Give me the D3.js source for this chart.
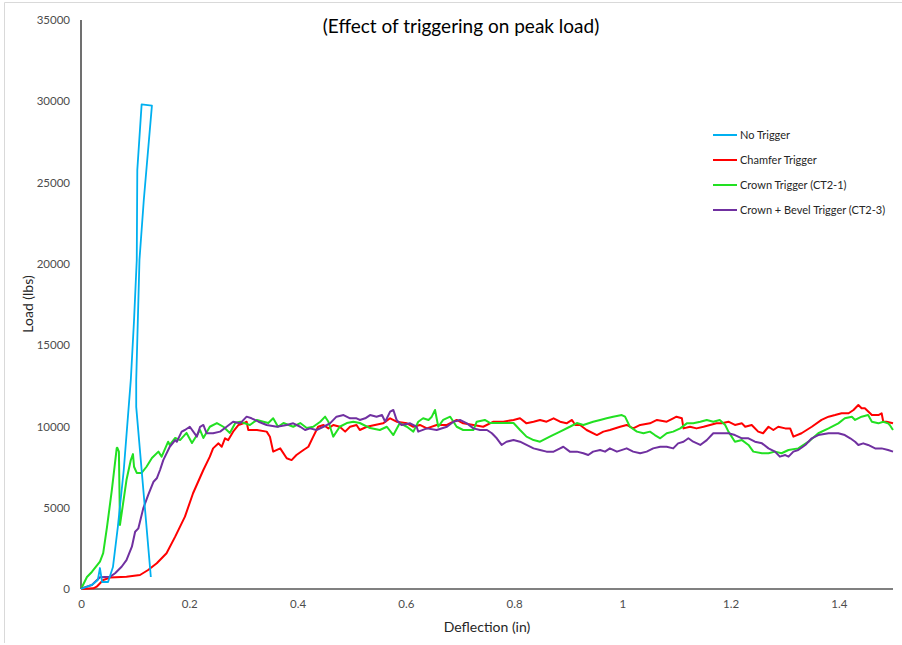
<!DOCTYPE html>
<html>
<head>
<meta charset="utf-8">
<script src="https://cdn.jsdelivr.net/npm/d3@7"></script>
<style>
  body { margin: 0; background: #fff; }
  svg { display: block; font-family: Lato, "Open Sans", sans-serif; }
  .axis text { fill: #4d4d4d; font-size: 11.5px; }
</style>
</head>
<body>
<svg id="chart" width="902" height="645"></svg>
<script>
// deflection (in), load (lbs)
const noTrigger = [[0,0],[0.020,250],[0.031,550],[0.035,1290],[0.039,430],[0.050,430],[0.059,1350],[0.068,3810],[0.079,7320],[0.092,12860],[0.098,16550],[0.103,20240],[0.104,25770],[0.112,29810],[0.131,29730],[0.116,23930],[0.108,20240],[0.102,12860],[0.102,11200],[0.129,740]];

const chamfer = [[0,0],[0.023,40],[0.029,140],[0.041,550],[0.054,700],[0.084,760],[0.109,860],[0.124,1170],[0.140,1580],[0.158,2200],[0.174,3220],[0.192,4450],[0.207,5890],[0.226,7320],[0.238,8140],[0.244,8650],[0.254,8960],[0.260,8750],[0.266,9270],[0.272,9160],[0.281,9680],[0.291,10090],[0.300,10190],[0.306,10290],[0.309,9780],[0.325,9780],[0.343,9680],[0.349,9370],[0.355,8450],[0.368,8650],[0.380,8040],[0.389,7930],[0.398,8240],[0.411,8550],[0.420,8750],[0.429,9370],[0.438,9980],[0.448,10090],[0.457,9880],[0.466,10090],[0.478,9980],[0.488,9680],[0.497,9980],[0.509,10090],[0.515,9780],[0.528,9980],[0.543,10090],[0.558,10190],[0.571,10500],[0.583,10290],[0.602,10190],[0.614,9980],[0.626,10090],[0.639,9880],[0.657,10090],[0.676,10090],[0.694,10400],[0.706,10190],[0.725,10090],[0.743,9980],[0.762,10290],[0.780,10290],[0.799,10400],[0.811,10500],[0.823,10190],[0.836,10290],[0.848,10400],[0.860,10290],[0.873,10500],[0.885,10290],[0.897,10190],[0.907,10400],[0.913,10090],[0.922,10090],[0.934,9780],[0.953,9470],[0.965,9680],[0.977,9780],[0.996,9980],[1.008,10090],[1.020,9880],[1.033,10090],[1.051,10190],[1.064,10400],[1.082,10290],[1.094,10500],[1.100,10600],[1.110,10500],[1.113,9880],[1.125,9980],[1.137,9880],[1.150,9980],[1.162,10090],[1.174,10190],[1.184,10190],[1.196,10290],[1.208,10090],[1.221,10190],[1.227,9980],[1.239,10090],[1.251,9680],[1.260,9580],[1.270,9980],[1.279,9780],[1.288,9980],[1.301,9880],[1.310,9880],[1.316,9370],[1.331,9580],[1.350,9980],[1.368,10400],[1.381,10600],[1.393,10700],[1.405,10810],[1.418,10810],[1.427,11010],[1.436,11320],[1.442,11120],[1.448,11120],[1.461,10700],[1.473,10700],[1.479,10810],[1.482,10290],[1.488,10290],[1.500,10190]];

const crown = [[0,0],[0.011,740],[0.020,1050],[0.035,1680],[0.041,2210],[0.048,3800],[0.057,6090],[0.066,8670],[0.067,8690],[0.070,8450],[0.072,3940],[0.084,6700],[0.092,7930],[0.096,8300],[0.098,7520],[0.103,7140],[0.112,7140],[0.121,7520],[0.131,8060],[0.143,8450],[0.149,8140],[0.161,9060],[0.164,8860],[0.174,9290],[0.183,9160],[0.195,9600],[0.205,8980],[0.220,9780],[0.226,9290],[0.238,9980],[0.251,10210],[0.263,9980],[0.275,9600],[0.285,10210],[0.294,10290],[0.312,10090],[0.325,10400],[0.337,10290],[0.346,10210],[0.355,10500],[0.364,9980],[0.374,10210],[0.392,9980],[0.405,10210],[0.417,9900],[0.429,9980],[0.442,10290],[0.451,10600],[0.457,10290],[0.466,9370],[0.478,9980],[0.491,10210],[0.503,10290],[0.515,10210],[0.534,9900],[0.552,9780],[0.565,9980],[0.577,9470],[0.589,10210],[0.602,9980],[0.614,9680],[0.623,10290],[0.632,10500],[0.642,10400],[0.648,10600],[0.654,11010],[0.660,9980],[0.669,10400],[0.682,10600],[0.694,9980],[0.706,9780],[0.725,9780],[0.731,10290],[0.746,10400],[0.756,10210],[0.774,10210],[0.786,10210],[0.799,10210],[0.811,9780],[0.823,9370],[0.836,9160],[0.848,9060],[0.866,9370],[0.885,9680],[0.903,9980],[0.916,10210],[0.928,10090],[0.946,10290],[0.959,10400],[0.971,10500],[0.983,10600],[0.999,10700],[1.005,10600],[1.014,9980],[1.027,9680],[1.039,9580],[1.051,9680],[1.060,9470],[1.070,9270],[1.082,9580],[1.094,9680],[1.107,9880],[1.119,10190],[1.131,10190],[1.144,10290],[1.156,10400],[1.168,10290],[1.180,10400],[1.190,10090],[1.196,9680],[1.208,9060],[1.221,9160],[1.233,8860],[1.242,8450],[1.258,8350],[1.270,8350],[1.282,8450],[1.294,8350],[1.307,8550],[1.325,8650],[1.344,9060],[1.362,9580],[1.381,9880],[1.399,10190],[1.411,10500],[1.424,10600],[1.430,10400],[1.442,10600],[1.454,10700],[1.461,10290],[1.473,10190],[1.482,10290],[1.491,10190],[1.494,10090],[1.500,9780]];

const crownBevel = [[0,0],[0.001,40],[0.020,250],[0.035,720],[0.054,760],[0.063,970],[0.075,1370],[0.084,1780],[0.094,2600],[0.100,3520],[0.106,3730],[0.115,4960],[0.124,5780],[0.134,6600],[0.140,6810],[0.146,7320],[0.152,7930],[0.164,8750],[0.174,9160],[0.177,9060],[0.186,9680],[0.192,9780],[0.201,9980],[0.214,9370],[0.220,9980],[0.226,10090],[0.232,9580],[0.244,9580],[0.257,9680],[0.269,9980],[0.281,10290],[0.294,10190],[0.306,10600],[0.315,10500],[0.328,10290],[0.343,10090],[0.362,9980],[0.380,10090],[0.392,10190],[0.405,9980],[0.414,9780],[0.423,9880],[0.435,9780],[0.448,9980],[0.460,10190],[0.472,10600],[0.485,10700],[0.497,10500],[0.509,10500],[0.515,10400],[0.525,10500],[0.534,10700],[0.546,10600],[0.556,10700],[0.562,10290],[0.571,10910],[0.577,11010],[0.583,10400],[0.592,10090],[0.608,10190],[0.620,9980],[0.623,9680],[0.639,9880],[0.657,9780],[0.676,9980],[0.688,10290],[0.700,10400],[0.713,10190],[0.725,9880],[0.737,9780],[0.750,9780],[0.759,9580],[0.768,9270],[0.777,8860],[0.786,9060],[0.799,9160],[0.811,9060],[0.823,8860],[0.836,8650],[0.848,8550],[0.860,8450],[0.873,8450],[0.885,8650],[0.891,8750],[0.903,8450],[0.916,8450],[0.928,8350],[0.937,8240],[0.946,8450],[0.959,8550],[0.968,8450],[0.977,8650],[0.990,8450],[1.008,8650],[1.020,8450],[1.033,8350],[1.045,8450],[1.057,8650],[1.070,8750],[1.082,8750],[1.094,8650],[1.103,8960],[1.113,9060],[1.122,9270],[1.131,9060],[1.144,8860],[1.156,9160],[1.168,9580],[1.180,9580],[1.196,9580],[1.208,9470],[1.221,9270],[1.233,9270],[1.245,9060],[1.258,8960],[1.270,8650],[1.282,8450],[1.291,8140],[1.301,8240],[1.307,8140],[1.316,8450],[1.325,8550],[1.338,8860],[1.350,9270],[1.362,9470],[1.381,9580],[1.399,9580],[1.411,9470],[1.421,9270],[1.430,9060],[1.436,8860],[1.445,8960],[1.454,8860],[1.467,8650],[1.479,8650],[1.491,8550],[1.500,8450]];

const seriesNames = ["No Trigger", "Chamfer Trigger", "Crown Trigger (CT2-1)", "Crown + Bevel Trigger (CT2-3)"];
const seriesColors = ["#00b0f0", "#ff0000", "#22e022", "#7030a0"];
const xTicks = [0, 0.2, 0.4, 0.6, 0.8, 1, 1.2, 1.4];
const yTicks = [0, 5000, 10000, 15000, 20000, 25000, 30000, 35000];

const svg = d3.select("#chart");
const W = 902, H = 645;
const plotL = 81, plotR = 893, plotT = 20, plotB = 589;

// faint frame of the chart area
svg.append("path")
  .attr("d", `M4.5,643 V2.5 H${W}`)
  .attr("fill", "none")
  .attr("stroke", "#d9d9d9");

const x = d3.scaleLinear().domain([0, 1.5]).range([plotL, plotR]);
const y = d3.scaleLinear().domain([0, 35000]).range([plotB, plotT]);

// axes (labels only, lines drawn separately)
const xAxis = svg.append("g").attr("class", "axis")
  .attr("transform", `translate(0,${plotB})`)
  .call(d3.axisBottom(x).tickValues(xTicks).tickSize(0).tickPadding(11).tickFormat(d3.format("~g")));
xAxis.select(".domain").remove();

const yAxis = svg.append("g").attr("class", "axis")
  .attr("transform", `translate(${plotL},0)`)
  .call(d3.axisLeft(y).tickValues(yTicks).tickSize(0).tickPadding(11).tickFormat(d3.format("d")));
yAxis.select(".domain").remove();

svg.selectAll(".axis text").attr("font-family", "Lato, sans-serif");

svg.append("line")
  .attr("x1", plotL).attr("x2", plotL).attr("y1", plotT).attr("y2", plotB)
  .attr("stroke", "#404040").attr("stroke-width", 1.5);
svg.append("line")
  .attr("x1", plotL).attr("x2", plotR).attr("y1", plotB).attr("y2", plotB)
  .attr("stroke", "#808080").attr("stroke-width", 1.8);

// series lines
const allSeries = [noTrigger, chamfer, crown, crownBevel];
const line = d3.line().x(d => x(d[0])).y(d => y(d[1]));
const drawOrder = [1, 2, 3, 0];
drawOrder.forEach(i => {
  svg.append("path")
    .datum(allSeries[i])
    .attr("fill", "none")
    .attr("stroke", seriesColors[i])
    .attr("stroke-width", i === 0 ? 1.8 : 2)
    .attr("stroke-linejoin", "round")
    .attr("d", line);
});

// title and axis titles
svg.append("text")
  .attr("x", 461).attr("y", 33)
  .attr("text-anchor", "middle")
  .attr("font-size", "19px").attr("fill", "#000")
  .text("(Effect of triggering on peak load)");

svg.append("text")
  .attr("x", 487).attr("y", 632)
  .attr("text-anchor", "middle")
  .attr("font-size", "14px").attr("fill", "#262626")
  .text("Deflection (in)");

svg.append("text")
  .attr("transform", "translate(33,304) rotate(-90)")
  .attr("text-anchor", "middle")
  .attr("font-size", "14px").attr("fill", "#262626")
  .text("Load (lbs)");

// legend
const legend = svg.append("g");
seriesNames.forEach((name, i) => {
  const ly = 135 + i * 25;
  legend.append("line")
    .attr("x1", 713).attr("x2", 737).attr("y1", ly).attr("y2", ly)
    .attr("stroke", seriesColors[i]).attr("stroke-width", 2);
  legend.append("text")
    .attr("x", 740).attr("y", ly + 4)
    .attr("font-size", "11px").attr("fill", "#262626")
    .text(name);
});
</script>
</body>
</html>
